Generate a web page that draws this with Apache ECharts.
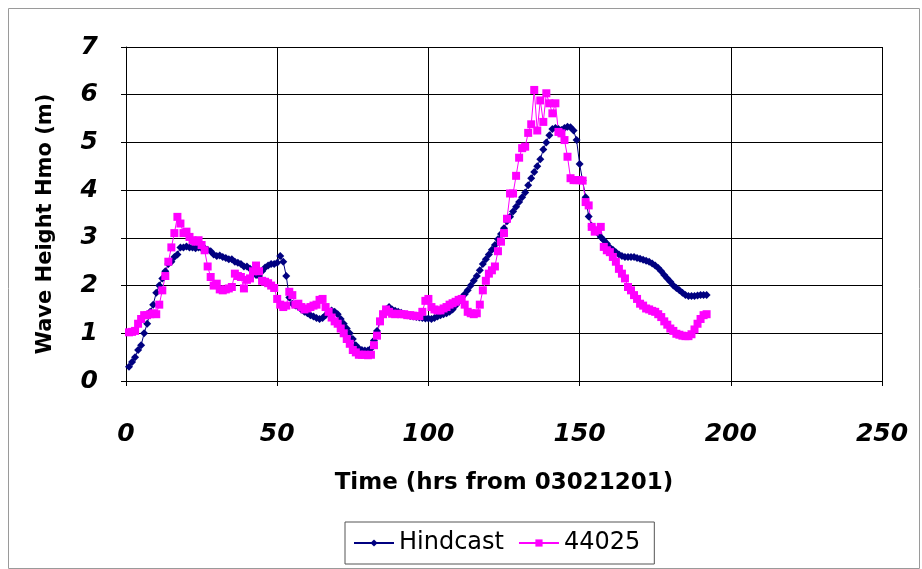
<!DOCTYPE html>
<html>
<head>
<meta charset="utf-8">
<script src="https://cdn.jsdelivr.net/npm/echarts@6/dist/echarts.min.js"></script>
<style>
html,body{margin:0;padding:0;background:#fff;}
#chart{width:922px;height:569px;}
</style>
</head>
<body>
<div id="chart"></div>
<script>
// Hourly series, first value at hour 1
const startHour = 1;
const hindcast = [
  0.3,0.4,0.5,0.65,0.75,1.0,1.2,1.45,1.6,1.85,2.0,2.15,2.3,2.45,2.5,2.6,2.65,2.8,
  2.8,2.82,2.8,2.8,2.78,2.8,2.78,2.78,2.75,2.72,2.65,2.62,
  2.63,2.6,2.58,2.55,2.55,2.5,2.48,2.45,2.4,2.4,2.35,2.3,2.22,2.2,2.3,2.38,2.42,2.45,2.45,2.48,
  2.62,2.5,2.2,1.75,1.62,1.58,1.55,
  1.5,1.45,1.42,1.38,1.35,1.32,1.3,1.32,1.38,1.45,1.48,1.45,1.4,
  1.3,1.2,1.1,1.0,0.88,0.75,0.68,0.65,0.64,0.64,0.68,0.85,1.05,1.25,
  1.4,1.5,1.55,1.5,1.47,1.45,1.43,1.4,1.38,1.36,1.35,1.34,1.33,1.32,1.31,1.31,
  1.3,1.32,1.35,1.38,1.4,1.42,1.45,1.5,1.58,1.66,1.75,1.82,1.9,2.0,2.1,2.2,2.32,2.45,2.55,2.65,2.75,2.85,2.97,3.08,3.2,3.35,
  3.44,3.55,3.65,3.75,3.85,3.95,4.1,4.25,4.38,4.5,4.65,4.85,5.0,5.15,5.28,
  5.3,5.28,5.26,5.3,5.33,5.32,5.25,5.05,
  4.55,4.2,3.85,3.45,3.25,3.15,3.1,3.02,2.95,2.88,2.8,
  2.75,2.7,2.65,2.62,2.6,2.6,2.6,2.6,2.58,2.56,2.54,2.52,2.5,2.46,2.42,2.37,2.3,2.22,2.15,2.08,2.0,1.95,1.9,1.85,1.8,1.78,1.78,1.78,1.79,1.8,1.8,1.8
];
const buoy44025 = [
  1.02,1.03,1.05,1.2,1.3,1.38,1.38,1.4,1.42,1.4,
  1.6,1.9,2.2,2.5,2.8,3.1,3.44,3.3,
  3.1,3.13,3.02,2.95,2.92,2.95,2.85,2.74,2.4,2.18,2.0,2.04,
  1.92,1.9,1.92,1.94,1.97,2.25,2.2,2.18,1.94,2.12,2.15,2.3,2.42,2.3,2.1,2.08,2.05,2.0,1.95,1.72,
  1.6,1.55,1.58,1.87,1.8,1.6,1.62,1.55,1.5,1.52,1.55,1.58,1.6,1.7,1.72,1.55,1.45,1.33,1.25,1.2,
  1.1,1.0,0.88,0.78,0.65,0.6,0.55,0.55,0.55,0.54,0.55,0.75,0.95,1.25,
  1.4,1.5,1.45,1.41,1.4,1.41,1.4,1.4,1.38,1.38,1.37,1.36,1.36,1.45,1.68,1.72,
  1.55,1.5,1.48,1.48,1.52,1.55,1.6,1.63,1.66,1.7,1.72,1.6,1.45,1.42,1.4,1.42,1.6,1.9,2.1,2.25,2.32,2.4,2.72,
  2.92,3.1,3.4,3.93,3.93,4.3,4.68,4.88,4.91,5.2,5.38,6.1,
  5.25,5.88,5.43,6.03,5.82,5.61,5.82,5.22,5.19,5.05,4.7,4.25,
  4.21,4.21,4.21,4.2,3.75,3.68,3.23,3.13,3.16,3.23,2.81,2.74,2.7,
  2.6,2.5,2.35,2.25,2.15,1.97,1.9,1.8,1.72,1.62,1.58,1.52,1.5,1.47,1.45,1.4,1.34,1.25,1.18,1.1,1.05,0.99,0.97,0.95,0.94,0.94,0.98,1.08,1.2,1.3,1.38,1.4
];
const seriesNames = ['Hindcast', '44025'];
const xTicks = [0, 50, 100, 150, 200, 250];
const yTicks = [0, 1, 2, 3, 4, 5, 6, 7];
const xTitle = 'Time (hrs from 03021201)';
const yTitle = 'Wave Height Hmo (m)';

const toPairs = arr => arr.map((v, i) => [startHour + i, v]);
const FONT = '"DejaVu Sans", sans-serif';

const chart = echarts.init(document.getElementById('chart'), null, {renderer: 'canvas'});
chart.setOption({
  animation: false,
  backgroundColor: '#fff',
  graphic: [{
    type: 'rect', left: 6, top: 6,
    shape: {width: 911, height: 560},
    style: {fill: 'none', stroke: '#9a9a9a', lineWidth: 1},
    silent: true, z: -1
  }],
  grid: {left: 126, right: 40, top: 47, bottom: 188, containLabel: false},
  xAxis: {
    type: 'value', min: xTicks[0], max: xTicks[xTicks.length - 1], interval: 50,
    name: xTitle, nameLocation: 'middle', nameGap: 91,
    nameTextStyle: {fontFamily: FONT, fontWeight: 'bold', fontSize: 23, color: '#000'},
    axisLine: {show: true, onZero: false, lineStyle: {color: '#000', width: 1}},
    axisTick: {show: true, length: 5, lineStyle: {color: '#000'}},
    axisLabel: {margin: 41, fontFamily: FONT, fontWeight: 'bold', fontStyle: 'italic', fontSize: 25, color: '#000'},
    splitLine: {show: true, lineStyle: {color: '#000', width: 1}}
  },
  yAxis: {
    type: 'value', min: yTicks[0], max: yTicks[yTicks.length - 1], interval: 1,
    name: yTitle, nameLocation: 'middle', nameGap: 70, nameRotate: 90,
    nameTextStyle: {fontFamily: FONT, fontWeight: 'bold', fontSize: 21, color: '#000', padding: [0, 20, 0, 0]},
    axisLine: {show: true, lineStyle: {color: '#000', width: 1}},
    axisTick: {show: true, length: 5, lineStyle: {color: '#000'}},
    axisLabel: {margin: 28, fontFamily: FONT, fontWeight: 'bold', fontStyle: 'italic', fontSize: 25, color: '#000'},
    splitLine: {show: true, lineStyle: {color: '#000', width: 1}}
  },
  legend: {
    left: 345, top: 522,
    data: seriesNames,
    itemWidth: 40, itemHeight: 9, itemGap: 14,
    padding: [9, 14, 9, 8],
    borderColor: '#555', borderWidth: 1,
    textStyle: {fontFamily: FONT, fontSize: 24, color: '#000'}
  },
  series: [
    {
      name: seriesNames[0], type: 'line', data: toPairs(hindcast),
      symbol: 'diamond', symbolSize: 8, showAllSymbol: true,
      itemStyle: {color: '#000080'},
      lineStyle: {color: '#000080', width: 1}
    },
    {
      name: seriesNames[1], type: 'line', data: toPairs(buoy44025),
      symbol: 'rect', symbolSize: 8, showAllSymbol: true,
      itemStyle: {color: '#ff00ff'},
      lineStyle: {color: '#ff00ff', width: 1}
    }
  ]
});
</script>
</body>
</html>
